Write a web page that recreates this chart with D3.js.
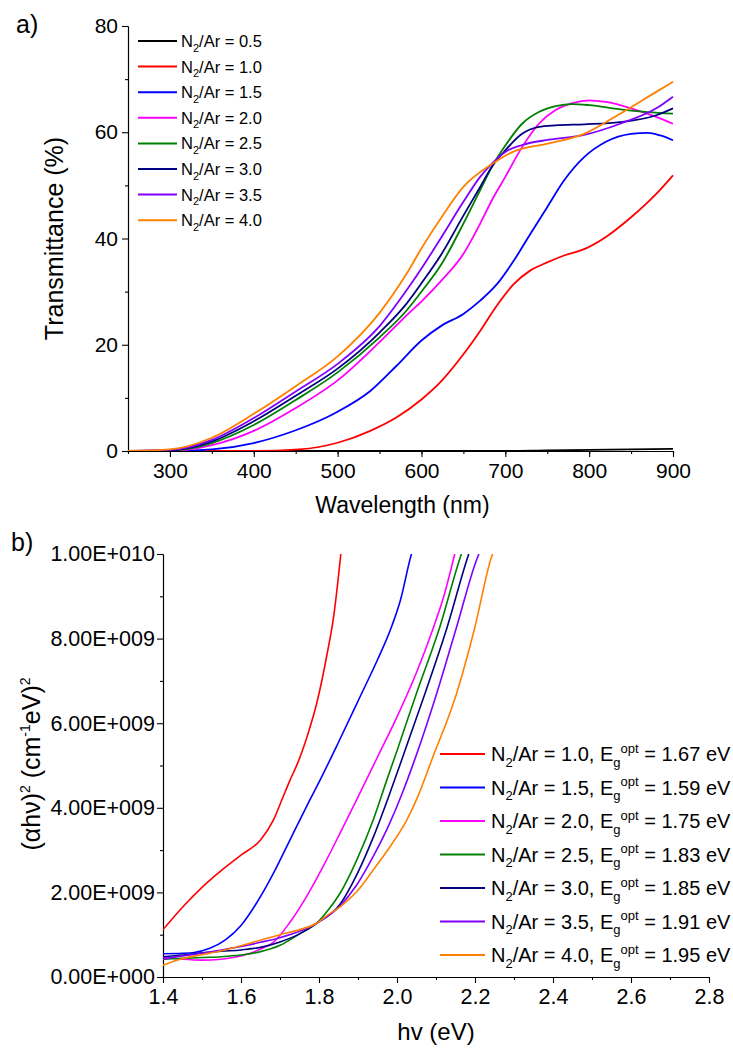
<!DOCTYPE html>
<html><head><meta charset="utf-8">
<script src="https://cdn.jsdelivr.net/npm/d3@7"></script>
<style>
body{margin:0;background:#fff}
svg{display:block}
text{font-family:"Liberation Sans",Arial,sans-serif;fill:#000;white-space:pre}
</style></head>
<body><svg id="c" width="733" height="1049"></svg>
<script>
// ---------- Panel a data: [wavelength nm, transmittance %] ----------
const ratioLabels = ["0.5","1.0","1.5","2.0","2.5","3.0","3.5","4.0"];
const trans05 = [[250,0],[700,0],[750,0.1],[800,0.2],[850,0.3],[900,0.4]];
const trans10 = [[250,0],[400,0],[454,0.3],[501,1.6],[539,3.8],[570,6.3],[600,9.7],[624,13.2],[650,18.2],[670,22.6],[690,27.4],[710,31.4],[730,34],[750,35.5],[770,36.8],[794,38],[820,40.3],[850,44],[880,48.4],[900,51.9]];
const trans15 = [[250,0],[300,0],[350,0.3],[400,1.5],[450,3.9],[500,7.4],[539,11.3],[570,16],[600,20.8],[624,23.6],[650,25.8],[670,28.3],[690,31.4],[710,35.8],[730,40.9],[750,45.9],[770,50.9],[794,55.3],[820,58.2],[850,59.7],[870,59.9],[885,59.4],[900,58.5]];
const trans20 = [[250,0],[300,0],[350,1.1],[400,3.8],[450,8.1],[500,13.3],[550,20.5],[582,25.5],[601,28.3],[624,32.1],[650,37.1],[670,42.8],[684,47.2],[700,51.6],[720,57.2],[740,61.6],[760,64.2],[780,65.5],[800,66],[820,65.7],[850,64.5],[880,62.9],[900,61.6]];
const trans25 = [[250,0],[300,0.1],[350,1.5],[400,4.9],[450,9.6],[500,14.8],[550,21.4],[582,26.4],[601,30.2],[624,35.2],[650,42.8],[670,49.1],[684,53.5],[700,57.5],[720,61.6],[740,63.8],[760,64.9],[780,65.3],[800,65.1],[837,64.3],[870,63.8],[900,63.5]];
const trans30 = [[250,0],[300,0.1],[350,1.8],[400,5.6],[450,10.4],[500,15.5],[550,22.3],[582,27.7],[601,31.8],[624,37.1],[650,44.3],[670,49.7],[684,53.5],[700,56.6],[720,59.7],[740,61],[760,61.3],[794,61.5],[837,61.9],[880,63.2],[900,64.5]];
const trans35 = [[250,0],[300,0.2],[350,2.1],[400,6.2],[450,11.2],[500,16.4],[550,23.5],[582,30.2],[601,34.6],[624,40.3],[650,46.9],[670,51.6],[684,54.1],[700,56.3],[720,57.6],[752,58.6],[794,59.5],[837,61.6],[880,64.5],[900,66.7]];
const trans40 = [[250,0],[300,0.3],[350,2.5],[400,7.0],[450,12.2],[500,17.8],[550,26],[582,33.3],[601,38.4],[624,44],[650,49.7],[684,54],[709,56.3],[752,57.9],[794,59.7],[837,63.5],[880,67.6],[900,69.5]];
const wavelengthTicks = [300,400,500,600,700,800,900];
const transTicks = [0,20,40,60,80];

// ---------- Panel b data: [hv eV, (alpha h nu)^2] ----------
const ratioLabelsB = ["1.0","1.5","2.0","2.5","3.0","3.5","4.0"];
const gapValues = ["1.67","1.59","1.75","1.83","1.85","1.91","1.95"];
const tauc10 = [[1.40,1.12e9],[1.45,1.65e9],[1.50,2.12e9],[1.55,2.52e9],[1.60,2.88e9],[1.65,3.24e9],[1.683,3.71e9],[1.708,4.26e9],[1.726,4.66e9],[1.745,5.05e9],[1.77,5.7e9],[1.795,6.5e9],[1.82,7.6e9],[1.838,8.55e9],[1.856,10.0e9]];
const tauc15 = [[1.40,0.55e9],[1.45,0.56e9],[1.48,0.58e9],[1.52,0.68e9],[1.56,0.88e9],[1.60,1.22e9],[1.64,1.75e9],[1.683,2.45e9],[1.726,3.25e9],[1.768,4.03e9],[1.803,4.66e9],[1.85,5.55e9],[1.905,6.62e9],[1.95,7.5e9],[1.986,8.28e9],[2.01,8.95e9],[2.033,9.86e9],[2.037,10.0e9]];
const tauc20 = [[1.40,0.46e9],[1.45,0.42e9],[1.50,0.40e9],[1.55,0.42e9],[1.58,0.46e9],[1.62,0.55e9],[1.65,0.66e9],[1.683,0.82e9],[1.726,1.3e9],[1.768,1.9e9],[1.811,2.62e9],[1.854,3.4e9],[1.897,4.2e9],[1.95,5.2e9],[2.0,6.15e9],[2.05,7.2e9],[2.091,8.2e9],[2.12,9.0e9],[2.148,10.0e9]];
const tauc25 = [[1.40,0.42e9],[1.45,0.44e9],[1.50,0.46e9],[1.55,0.48e9],[1.60,0.52e9],[1.65,0.6e9],[1.70,0.75e9],[1.75,1.02e9],[1.794,1.27e9],[1.825,1.6e9],[1.854,1.98e9],[1.897,2.77e9],[1.939,3.71e9],[1.974,4.66e9],[2.0,5.35e9],[2.05,6.71e9],[2.11,8.28e9],[2.16,9.86e9],[2.165,10.0e9]];
const tauc30 = [[1.40,0.48e9],[1.45,0.52e9],[1.50,0.57e9],[1.55,0.61e9],[1.60,0.64e9],[1.65,0.7e9],[1.70,0.83e9],[1.75,1.02e9],[1.794,1.27e9],[1.854,1.72e9],[1.897,2.42e9],[1.939,3.3e9],[1.978,4.25e9],[2.012,5.13e9],[2.072,6.71e9],[2.129,8.28e9],[2.179,9.86e9],[2.184,10.0e9]];
const tauc35 = [[1.40,0.42e9],[1.45,0.5e9],[1.50,0.56e9],[1.55,0.64e9],[1.60,0.72e9],[1.65,0.82e9],[1.70,0.93e9],[1.75,1.08e9],[1.794,1.27e9],[1.854,1.68e9],[1.897,2.18e9],[1.939,2.85e9],[1.982,3.65e9],[2.015,4.38e9],[2.042,5.05e9],[2.102,6.71e9],[2.153,8.28e9],[2.204,9.86e9],[2.21,10.0e9]];
const tauc40 = [[1.40,0.28e9],[1.444,0.42e9],[1.495,0.52e9],[1.55,0.62e9],[1.60,0.74e9],[1.65,0.87e9],[1.70,1.0e9],[1.75,1.12e9],[1.794,1.27e9],[1.82,1.45e9],[1.854,1.66e9],[1.897,2.02e9],[1.939,2.53e9],[1.982,3.08e9],[2.025,3.71e9],[2.055,4.3e9],[2.089,5.13e9],[2.153,6.71e9],[2.2,8.28e9],[2.24,9.86e9],[2.245,10.0e9]];
const energyTicks = [1.4,1.6,1.8,2.0,2.2,2.4,2.6,2.8];
const taucTicks = [0,2e9,4e9,6e9,8e9,1e10];

// ---------- styles ----------
const colorsA = ["#000000","#ff0000","#0000ff","#ff00ff","#008000","#000080","#8000ff","#ff8000"];
const colorsB = colorsA.slice(1);

const svg = d3.select("#c");

function styleAxis(g, size){
  g.selectAll("path.domain").attr("stroke","#000").attr("stroke-width",1.1);
  g.selectAll(".tick line").attr("stroke","#000").attr("stroke-width",1.1);
  g.selectAll(".tick text").attr("font-size",size).attr("font-family","Liberation Sans, Arial, sans-serif").attr("fill","#000");
}

// ================= Panel a =================
const xA = d3.scaleLinear().domain([250,900]).range([128,673]);
const yA = d3.scaleLinear().domain([0,80]).range([451,26]);

svg.append("defs").append("clipPath").attr("id","clipA").append("rect")
  .attr("x",xA(250)).attr("y",yA(80)-2).attr("width",xA(900)-xA(250)+2).attr("height",yA(0)-yA(80)+2);

const gA = svg.append("g");
gA.append("g").attr("transform",`translate(0,${yA(0)})`)
  .call(d3.axisBottom(xA).tickValues(d3.range(250,901,50)).tickSize(3).tickSizeOuter(0).tickFormat(""))
  .call(g=>styleAxis(g,21));
gA.append("g").attr("transform",`translate(${xA(250)},0)`)
  .call(d3.axisLeft(yA).tickValues(d3.range(10,80,20)).tickSize(3).tickSizeOuter(0).tickFormat(""))
  .call(g=>styleAxis(g,21));
gA.append("g").attr("transform",`translate(0,${yA(0)})`)
  .call(d3.axisBottom(xA).tickValues(wavelengthTicks).tickSize(6).tickSizeOuter(0).tickPadding(6))
  .call(g=>styleAxis(g,21));
gA.append("g").attr("transform",`translate(${xA(250)},0)`)
  .call(d3.axisLeft(yA).tickValues(transTicks).tickSize(6).tickSizeOuter(0).tickPadding(4))
  .call(g=>styleAxis(g,21));

const lineA = d3.line().x(d=>xA(d[0])).y(d=>yA(d[1])).curve(d3.curveMonotoneX);
const seriesA = [trans05,trans10,trans15,trans20,trans25,trans30,trans35,trans40];
gA.append("g").attr("clip-path","url(#clipA)").selectAll("path").data(seriesA).join("path")
  .attr("d",lineA).attr("fill","none").attr("stroke",(d,i)=>colorsA[i]).attr("stroke-width",1.8);

const legA = gA.append("g");
ratioLabels.forEach((r,i)=>{
  const cy = 41 + i*25.6;
  legA.append("line").attr("x1",138).attr("x2",177).attr("y1",cy).attr("y2",cy)
    .attr("stroke",colorsA[i]).attr("stroke-width",2);
  const t = legA.append("text").attr("x",181).attr("y",cy+6).attr("font-size",16.5);
  t.append("tspan").text("N");
  t.append("tspan").attr("dy",4.5).attr("font-size",11).text("2");
  t.append("tspan").attr("dy",-4.5).text("/Ar = " + r);
});

svg.append("text").attr("x",16).attr("y",33).attr("font-size",25).text("a)");
svg.append("text").attr("transform",`translate(63,${(yA(0)+yA(80))/2}) rotate(-90)`)
  .attr("text-anchor","middle").attr("font-size",25).text("Transmittance (%)");
svg.append("text").attr("x",(xA(250)+xA(900))/2+2).attr("y",513).attr("text-anchor","middle")
  .attr("font-size",23).text("Wavelength (nm)");

// ================= Panel b =================
const xB = d3.scaleLinear().domain([1.4,2.8]).range([163,709]);
const yB = d3.scaleLinear().domain([0,1e10]).range([977,554]);

svg.select("defs").append("clipPath").attr("id","clipB").append("rect")
  .attr("x",xB(1.4)).attr("y",yB(1e10)).attr("width",xB(2.8)-xB(1.4)).attr("height",yB(0)-yB(1e10)+2);

const fmtE = d=>{
  if(d===0) return "0.00E+000";
  const e = Math.floor(Math.log10(d)+1e-9);
  const m = d/Math.pow(10,e);
  return m.toFixed(2)+"E+"+String(e).padStart(3,"0");
};

const gB = svg.append("g");
gB.append("g").attr("transform",`translate(0,${yB(0)})`)
  .call(d3.axisBottom(xB).tickValues(d3.range(15,28,2).map(v=>v/10)).tickSize(3).tickSizeOuter(0).tickFormat(""))
  .call(g=>styleAxis(g,21.5));
gB.append("g").attr("transform",`translate(${xB(1.4)},0)`)
  .call(d3.axisLeft(yB).tickValues(d3.range(1,10,2).map(v=>v*1e9)).tickSize(3).tickSizeOuter(0).tickFormat(""))
  .call(g=>styleAxis(g,21.5));
gB.append("g").attr("transform",`translate(0,${yB(0)})`)
  .call(d3.axisBottom(xB).tickValues(energyTicks).tickSize(6).tickSizeOuter(0).tickPadding(6).tickFormat(d3.format(".1f")))
  .call(g=>styleAxis(g,21.5));
gB.append("g").attr("transform",`translate(${xB(1.4)},0)`)
  .call(d3.axisLeft(yB).tickValues(taucTicks).tickSize(6).tickSizeOuter(0).tickPadding(2).tickFormat(fmtE))
  .call(g=>styleAxis(g,21.5));

const lineB = d3.line().x(d=>xB(d[0])).y(d=>yB(d[1])).curve(d3.curveMonotoneX);
const seriesB = [tauc10,tauc15,tauc20,tauc25,tauc30,tauc35,tauc40];
gB.append("g").attr("clip-path","url(#clipB)").selectAll("path").data(seriesB).join("path")
  .attr("d",lineB).attr("fill","none").attr("stroke",(d,i)=>colorsB[i]).attr("stroke-width",1.6);

const legB = gB.append("g");
ratioLabelsB.forEach((r,i)=>{
  const cy = 754 + i*33.5;
  legB.append("line").attr("x1",440).attr("x2",485).attr("y1",cy).attr("y2",cy)
    .attr("stroke",colorsB[i]).attr("stroke-width",2);
  const t = legB.append("text").attr("x",491).attr("y",cy+7).attr("font-size",20);
  t.append("tspan").text("N");
  t.append("tspan").attr("dy",5.5).attr("font-size",13).text("2");
  t.append("tspan").attr("dy",-5.5).text("/Ar = " + r + ", E");
  t.append("tspan").attr("dy",5.5).attr("font-size",13).text("g");
  t.append("tspan").attr("dy",-14).attr("font-size",13).text("opt");
  t.append("tspan").attr("dy",8.5).text(" = " + gapValues[i] + " eV");
});

svg.append("text").attr("x",11).attr("y",551).attr("font-size",25).text("b)");
const yl = svg.append("text").attr("transform",`translate(40,764) rotate(-90)`)
  .attr("text-anchor","middle").attr("font-size",25);
yl.append("tspan").text("(\u03B1h\u03BD)");
yl.append("tspan").attr("dy",-10).attr("font-size",14).text("2");
yl.append("tspan").attr("dy",10).text(" (cm");
yl.append("tspan").attr("dy",-10).attr("font-size",14).text("-1");
yl.append("tspan").attr("dy",10).text("eV)");
yl.append("tspan").attr("dy",-10).attr("font-size",14).text("2");

svg.append("text").attr("x",436).attr("y",1040).attr("text-anchor","middle")
  .attr("font-size",24).text("hv (eV)");
</script>
</body></html>
